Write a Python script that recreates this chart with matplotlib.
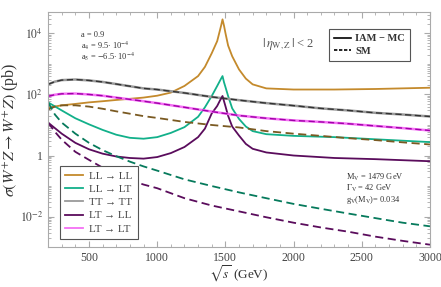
import matplotlib
matplotlib.use('Agg')
import matplotlib.pyplot as plt
from matplotlib.lines import Line2D
from matplotlib.ticker import FixedLocator, MultipleLocator, LogLocator, NullFormatter

plt.rcParams['font.family'] = ['Liberation Serif', 'DejaVu Serif']
plt.rcParams['mathtext.fontset'] = 'stix'

# sqrt(s) grids (GeV)
s_res = [200, 300, 400, 500, 600, 700, 800, 900, 1000, 1100, 1200, 1300, 1350, 1400, 1440,
         1460, 1470, 1479, 1490, 1500, 1520, 1550, 1600, 1650, 1700, 1800, 2000, 2300, 2600, 3000]
s_sm = [200, 250, 300, 400, 500, 600, 700, 800, 900, 1000, 1200, 1400, 1600, 1800, 2000,
        2200, 2400, 2600, 2800, 3000]

# IAM-MC cross sections (pb)
ll_ll_iam = [37, 44, 49, 55, 60, 66, 72, 79, 91, 115, 190, 400, 800, 2240, 5600,
             12600, 19000, 28800, 17800, 10500, 4000, 1780, 660, 330, 214, 158, 145, 145, 151, 166]
ll_lt_iam = [55, 30, 16.6, 10.5, 6.9, 4.8, 3.8, 3.55, 4.0, 5.5, 8.5, 18.6, 38, 89, 190,
             280, 340, 400, 250, 178, 89, 35, 15.8, 8.9, 6.3, 5.0, 4.4, 4.0, 3.4, 2.75]
lt_ll_iam = [12, 5.2, 2.6, 1.6, 1.15, 0.93, 0.83, 0.79, 0.89, 1.2, 1.9, 4.0, 7.6, 24, 42,
             63, 76, 89, 60, 42, 20, 8.9, 4.5, 2.4, 1.66, 1.26, 1.0, 0.83, 0.76, 0.65]
tt_tt_iam = [214, 263, 295, 309, 288, 257, 219, 186, 158, 145, 112, 83, 65, 52, 43,
             35, 30, 25, 22, 19]
lt_lt_iam = [87, 98, 105, 107, 100, 91, 79, 69, 60, 52, 38, 27.5, 20.4, 16.6, 14.1,
             12.6, 11, 9.3, 7.9, 6.6]

# SM cross sections (pb)
ll_ll_sm = [32, 40, 44, 44, 40, 34, 28, 23.4, 19.5, 17, 12.6, 10, 8.3, 6.3, 5.2,
            4.4, 3.7, 3.2, 2.7, 2.3]
ll_lt_sm = [55, 22, 12, 5.2, 2.6, 1.5, 0.95, 0.63, 0.44, 0.32, 0.166, 0.1, 0.062, 0.04, 0.026,
            0.018, 0.0126, 0.0089, 0.0063, 0.0048]
lt_ll_sm = [12, 6.0, 3.3, 1.32, 0.72, 0.40, 0.24, 0.158, 0.112, 0.085, 0.04, 0.023, 0.0148,
            0.0095, 0.0063, 0.0044, 0.0032, 0.0022, 0.0016, 0.0012]
tt_tt_sm = tt_tt_iam
lt_lt_sm = lt_lt_iam

c_gold, c_gold_d = '#c48a2c', '#7a5a22'
c_green, c_green_d = '#12b08a', '#067a5c'
c_gray, c_gray_d = '#9a9a9a', '#333333'
c_purp = '#5a0c5c'
c_mag, c_mag_d = '#f570f5', '#a000a8'

fig = plt.figure(figsize=(4.41, 2.87), dpi=100)
ax = fig.add_axes([0.109, 0.139, 0.866, 0.819])

lw = 1.3
dash = (0, (4.5, 2.5))
ax.plot(s_res, ll_ll_iam, color=c_gold, lw=lw)
ax.plot(s_res, ll_lt_iam, color=c_green, lw=lw)
ax.plot(s_sm, tt_tt_iam, color=c_gray, lw=1.8)
ax.plot(s_res, lt_ll_iam, color=c_purp, lw=lw)
ax.plot(s_sm, lt_lt_iam, color=c_mag, lw=1.8)

ax.plot(s_sm, ll_ll_sm, color=c_gold_d, lw=lw, ls=dash)
ax.plot(s_sm, ll_lt_sm, color=c_green_d, lw=lw, ls=dash)
ax.plot(s_sm, tt_tt_sm, color=c_gray_d, lw=1.0, ls=dash)
ax.plot(s_sm, lt_ll_sm, color=c_purp, lw=lw, ls=dash)
ax.plot(s_sm, lt_lt_sm, color=c_mag_d, lw=1.0, ls=dash)

ax.set_yscale('log')
ax.set_xlim(200, 3000)
ax.set_ylim(1e-3, 5e4)

ax.xaxis.set_major_locator(MultipleLocator(500))
ax.xaxis.set_minor_locator(MultipleLocator(100))
ax.yaxis.set_major_locator(FixedLocator([1e-2, 1, 1e2, 1e4]))
ax.set_yticklabels([r'$10^{-2}$', '1', r'$10^{2}$', r'$10^{4}$'])
ax.yaxis.set_minor_locator(LogLocator(base=10, subs=[1, 2, 3, 4, 5, 6, 7, 8, 9], numticks=20))
ax.yaxis.set_minor_formatter(NullFormatter())

ax.tick_params(which='both', direction='in', top=True, right=True, color='#aaaaaa',
               labelsize=8.5, labelcolor='#444444')
ax.tick_params(which='major', length=4)
ax.tick_params(which='minor', length=2)
for sp in ax.spines.values():
    sp.set_color('#aaaaaa')
    sp.set_linewidth(0.8)

ax.set_xlabel(r'$\sqrt{s}$ (GeV)', fontsize=9.5, color='#333333', labelpad=0)
ax.set_ylabel(r'$\sigma(W^{+}Z\rightarrow W^{+}Z)$ (pb)', fontsize=11.5, color='#333333', labelpad=0)

h1 = [Line2D([], [], color=c, lw=1.3) for c in [c_gold, c_green, c_gray, c_purp, c_mag]]
leg1 = ax.legend(h1, ['LL → LL', 'LL → LT', 'TT → TT', 'LT → LL', 'LT → LT'],
                 loc='lower left', bbox_to_anchor=(0.031, 0.034), borderaxespad=0, fontsize=8,
                 fancybox=False, edgecolor='#555555', framealpha=1, handlelength=1.6,
                 handletextpad=0.5, labelspacing=0.3, borderpad=0.5, labelcolor='#444444')
leg1.get_frame().set_linewidth(0.8)
ax.add_artist(leg1)

h2 = [Line2D([], [], color='black', lw=1.2), Line2D([], [], color='black', lw=1.2, ls=(0, (2, 1)))]
leg2 = ax.legend(h2, ['IAM − MC', 'SM'], loc='upper right', bbox_to_anchor=(0.948, 0.928),
                 borderaxespad=0, prop={'weight': 'bold', 'size': 7.5}, fancybox=False,
                 edgecolor='#555555', framealpha=1, handlelength=1.6, handletextpad=0.4,
                 labelspacing=0.3, borderpad=0.5, labelcolor='#333333')
leg2.get_frame().set_linewidth(0.8)

tc = '#333333'
ax.text(0.087, 0.895, 'a = 0.9', transform=ax.transAxes, fontsize=6, color=tc)
ax.text(0.087, 0.845, r'a$_4$ = 9.5$\cdot$ 10$^{-4}$', transform=ax.transAxes, fontsize=6, color=tc)
ax.text(0.087, 0.795, r'a$_5$ = $-$6.5$\cdot$ 10$^{-4}$', transform=ax.transAxes, fontsize=6, color=tc)
ax.text(0.56, 0.85, r'$|\,\eta_{\rm W,Z}\,|$ < 2', transform=ax.transAxes, fontsize=9, color='#555555')
ax.text(0.78, 0.285, r'M$_{\rm V}$ = 1479 GeV', transform=ax.transAxes, fontsize=6, color=tc)
ax.text(0.78, 0.238, r'$\Gamma_{\rm V}$ = 42 GeV', transform=ax.transAxes, fontsize=6, color=tc)
ax.text(0.78, 0.19, r'g$_{\rm V}$(M$_{\rm V}$)= 0.034', transform=ax.transAxes, fontsize=6, color=tc)

fig.savefig('out.png', dpi=100)
